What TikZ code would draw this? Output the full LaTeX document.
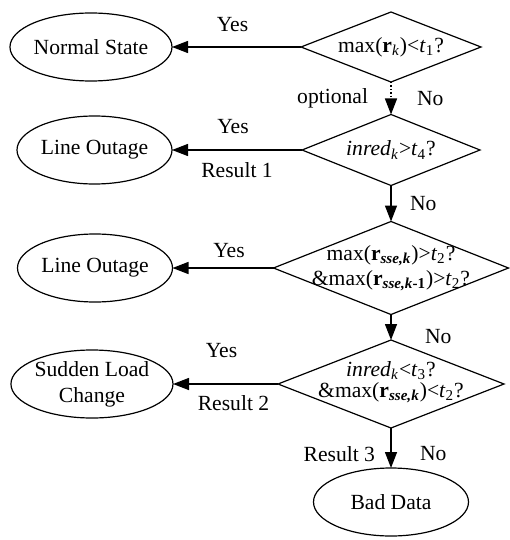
\documentclass[tikz,border=0pt]{standalone}
\usepackage{fontspec}
\setmainfont{Liberation Serif}
\usetikzlibrary{positioning,shapes.geometric,arrows.meta}

\begin{document}
\begin{tikzpicture}[font=\fontsize{10.8}{12}\selectfont,
	every node/.style={inner sep=0pt, outer sep=0pt, align=center},
	test/.style={diamond, draw, line width=0.6pt, shape aspect=2.5},
	state/.style={ellipse, draw, line width=0.6pt, minimum width=77.5pt, minimum height=34pt},
	arr/.style={line width=0.7pt, -{Triangle[length=8pt,width=6pt]}}]
			
			\useasboundingbox (0,0) rectangle (254.5pt,-270pt);
			
			% rozhodovaci bloky
			\node[test, minimum width=90pt, minimum height=35pt] (d1) at (195.5pt,-23.5pt) {};
			\node[test, minimum width=89pt, minimum height=35.5pt, below=16.25pt of d1] (d2) {};
			\node[test, minimum width=117.5pt, minimum height=46.5pt, below=18pt of d2] (d3) {};
			\node[test, minimum width=113pt, minimum height=44pt, below=12.75pt of d3] (d4) {};
			
			% podminky
			\node (q1) at (d1) {max(\textbf{r}\textsubscript{\textit{k}})<\textit{t}\textsubscript{1}?};
			\node (q2) at (d2) {\textit{inred}\textsubscript{\textit{k}}>\textit{t}\textsubscript{4}?};
			\node (q3) at (d3) {max(\textbf{r}\textsubscript{\textbf{\textit{sse,k}}})>\textit{t}\textsubscript{2}?\\[0.5pt]
				\&max(\textbf{r}\textsubscript{\textbf{\textit{sse,k}}\textbf{-1}})>\textit{t}\textsubscript{2}?};
			\node (q4) at ([yshift=1pt]d4) {\textit{inred}\textsubscript{\textit{k}}<\textit{t}\textsubscript{3}?\\[-1.5pt]
				\&max(\textbf{r}\textsubscript{\textbf{\textit{sse,k}}})<\textit{t}\textsubscript{2}?};
			
			% vysledky
			\node[state, left=64.5pt of d1] (s1) {Normal State};
			\node[state, left=65pt of d2] (s2) {Line Outage};
			\node[state, left=50.5pt of d3] (s3) {Line Outage};
			\node[state, left=52.5pt of d4] (s4) {Sudden Load\\[1pt]Change};
			\node[state, below=20pt of d4] (s5) {Bad Data};
			
			% sipky No
			\draw[arr, densely dotted] (d1.south) -- node[left=11.5pt] (opt) {optional}
				node[right=13pt] (n1) {No} (d2.north);
			\draw[arr] (d2.south) -- node[right=9.5pt] (n2) {No} (d3.north);
			\draw[arr] (d3.south) -- node[right=17pt, yshift=-4.5pt] (n3) {No} (d4.north);
			\draw[arr] (d4.south) -- node[left=8pt, yshift=-3pt] (r3) {Result 3}
				node[right=14.5pt, yshift=-3pt] (n4) {No} (s5.north);
			
			% sipky Yes
			\draw[arr] (d1.west) -- node[above=7.8pt, xshift=-2pt] (y1) {Yes} (s1.east);
			\draw[arr] (d2.west) -- node[above=8.3pt, xshift=-2pt] (y2) {Yes}
				node[below=6.4pt] (r1) {Result 1} (s2.east);
			\draw[arr] (d3.west) -- node[above=5.3pt, xshift=3pt] (y3) {Yes} (s3.east);
			\draw[arr] (d4.west) -- node[above=13.3pt, xshift=-2pt] (y4) {Yes}
				node[below=5.9pt, xshift=4pt] (r2) {Result 2} (s4.east);
			
		\end{tikzpicture}
\end{document}
